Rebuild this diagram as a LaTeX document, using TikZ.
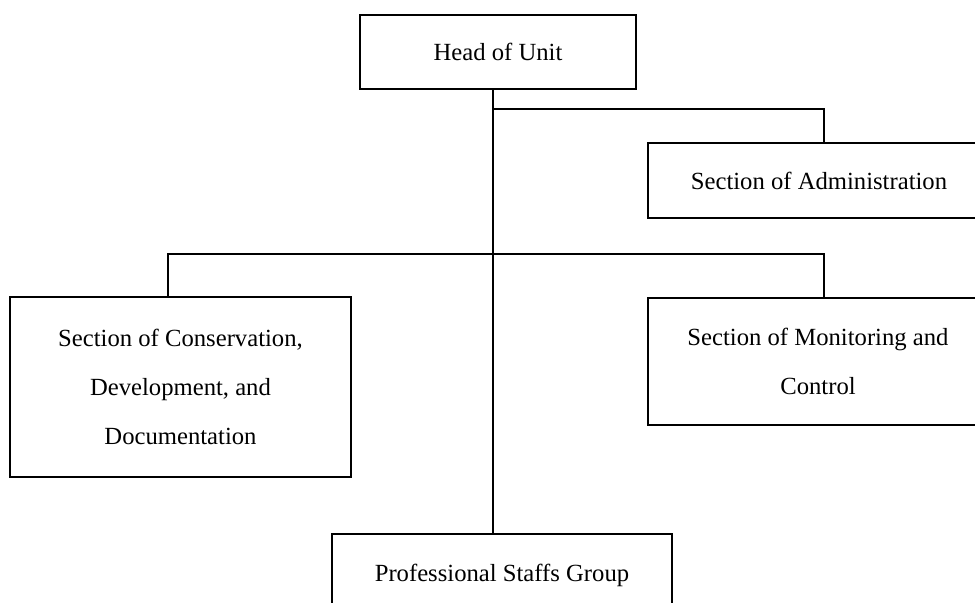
\documentclass[tikz,border=0pt]{standalone}
\usepackage{fontspec}
\setmainfont{Liberation Serif}
\usetikzlibrary{positioning}
\begin{document}
\begin{tikzpicture}[x=.75pt,y=-.75pt,font=\fontsize{18.5}{36.75}\selectfont,
 unitbox/.style={draw,line width=1.1pt,rectangle,align=center,inner sep=0pt},
 link/.style={line width=1pt}]
\useasboundingbox (0,0) rectangle (975,603);
\clip (0,0) rectangle (975,603);
\node[unitbox,minimum width=207pt,minimum height=55.5pt] (head) at (498,52) {Head of Unit};
\node[unitbox,minimum width=256.5pt,minimum height=56.25pt] (admin) at (819,180.5) {Section of Administration};
\node[unitbox,minimum width=255.75pt,minimum height=135pt] (conserv) at (180.5,387) {Section of Conservation,\\ Development, and\\ Documentation};
\node[unitbox,minimum width=255pt,minimum height=95.25pt] (monitor) at (818,361.5) {Section of Monitoring and\\ Control};
\node[unitbox,minimum width=255pt,minimum height=61.5pt] (staff) at (502,575) {Professional Staffs Group};
\coordinate (upper) at (493,109);
\coordinate (lower) at (493,254);
\coordinate (adminup) at (824,109);
\coordinate (conservup) at (168,254);
\coordinate (monitorup) at (824,254);
\draw[link] (head.south -| upper) -- (staff.north -| upper);
\draw[link] (upper) -- (adminup) -- (adminup |- admin.north);
\draw[link] (conservup |- conserv.north) -- (conservup) -- (monitorup) -- (monitorup |- monitor.north);
\end{tikzpicture}
\end{document}
